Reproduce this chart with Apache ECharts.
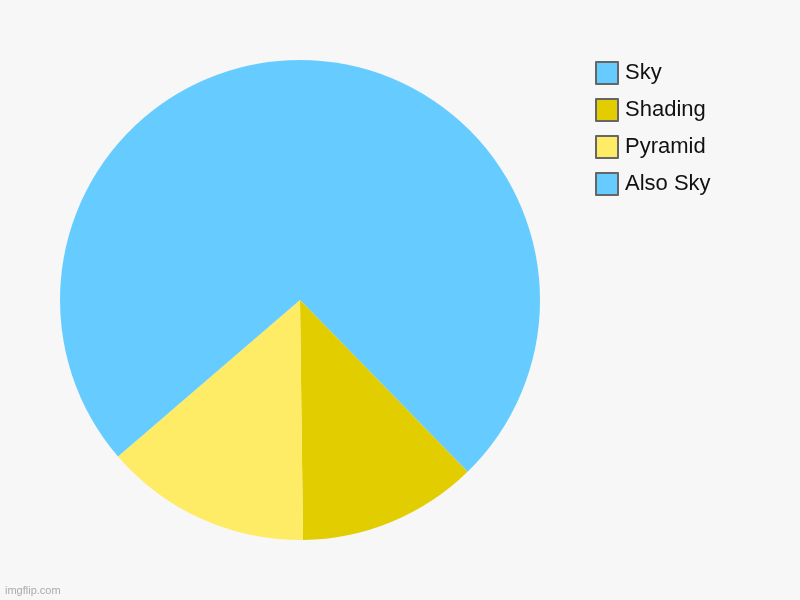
<!DOCTYPE html>
<html>
<head>
<meta charset="utf-8">
<script src="https://cdn.jsdelivr.net/npm/echarts@6/dist/echarts.min.js"></script>
<style>
html,body{margin:0;padding:0;background:#f7f7f7;}
#chart{width:800px;height:600px;}
</style>
</head>
<body>
<div id="chart"></div>
<script>
const categories = ["Sky", "Shading", "Pyramid", "Also Sky"];
const values = [37.7, 12.1, 13.9, 36.3];
const colors = ["#66ccff", "#e2cd00", "#ffec66", "#66ccff"];

const chart = echarts.init(document.getElementById('chart'));
chart.setOption({
  backgroundColor: '#f7f7f7',
  animation: false,
  legend: {
    orient: 'vertical',
    left: 590,
    top: 56,
    padding: 5,
    itemWidth: 22,
    itemHeight: 22,
    itemGap: 13,
    icon: 'rect',
    data: categories,
    itemStyle: { borderColor: '#666', borderWidth: 2 },
    textStyle: { fontSize: 22, lineHeight: 22, color: '#111', fontFamily: 'Liberation Sans, Arial, sans-serif', padding: [0, 0, 0, 2] }
  },
  graphic: [{
    type: 'text',
    left: 5,
    top: 585,
    style: { text: 'imgflip.com', fill: '#aaa', fontSize: 11, fontFamily: 'Liberation Sans, Arial, sans-serif' }
  }],
  series: [{
    type: 'pie',
    center: [300, 300],
    radius: 240,
    startAngle: 90,
    clockwise: true,
    label: { show: false },
    labelLine: { show: false },
    emphasis: { disabled: true },
    itemStyle: { borderWidth: 0 },
    data: categories.map((c, i) => ({ name: c, value: values[i], itemStyle: { color: colors[i] } }))
  }]
});
</script>
</body>
</html>
